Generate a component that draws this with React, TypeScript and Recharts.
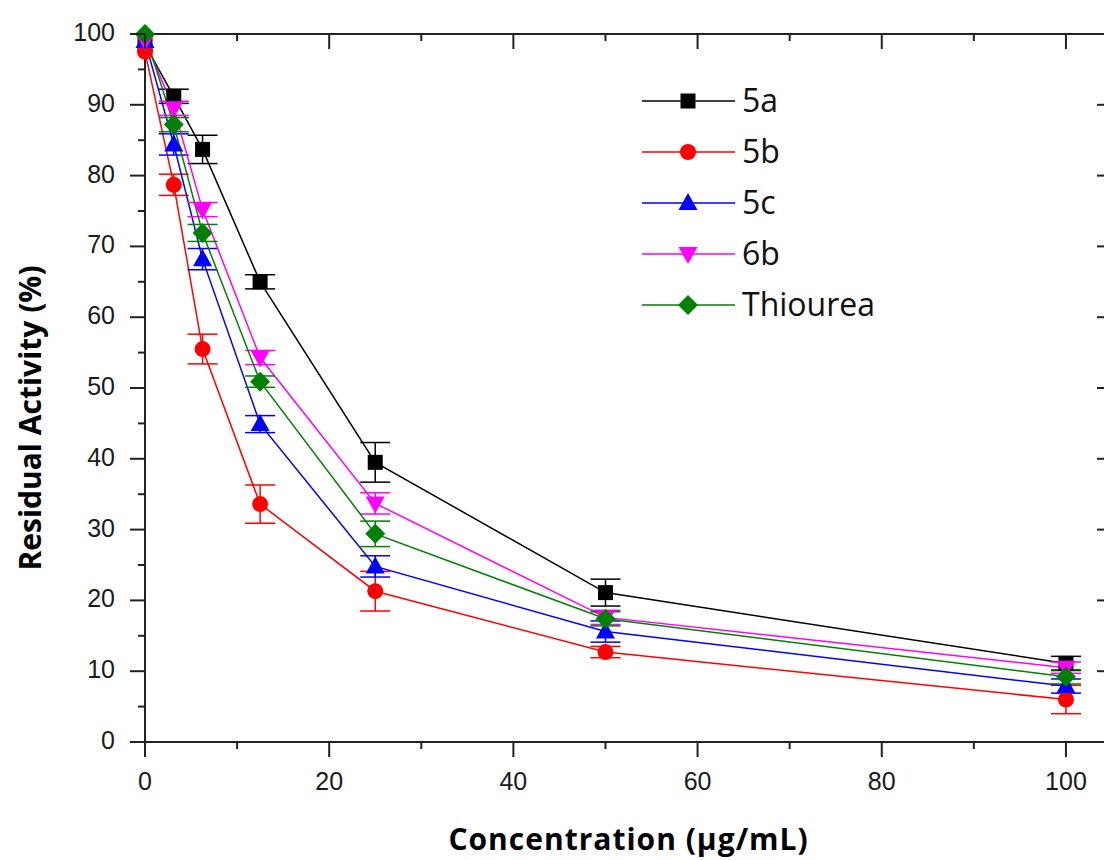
import React from 'react';
import { LineChart, Line, XAxis, YAxis, ErrorBar } from 'recharts';

// concentrations (µg/mL)
const concentrations = [0, 3.125, 6.25, 12.5, 25, 50, 100];

// residual activity (%) and SD
const act5a = [98.5, 91.2, 83.7, 65.0, 39.5, 21.1, 11.1];
const err5a = [0, 1.0, 2.0, 1.0, 2.8, 1.9, 1.0];
const act5b = [97.5, 78.7, 55.5, 33.6, 21.3, 12.7, 6.0];
const err5b = [0, 1.5, 2.1, 2.7, 2.8, 0.8, 2.0];
const act5c = [99.0, 84.4, 68.2, 44.9, 24.8, 15.6, 7.9];
const err5c = [0, 1.5, 1.5, 1.2, 1.5, 1.5, 1.0];
const act6b = [99.0, 89.5, 75.2, 54.3, 33.7, 17.6, 10.5];
const err6b = [0, 1.0, 1.0, 1.0, 1.5, 1.0, 0.8];
const actThiourea = [100, 87.2, 71.9, 50.9, 29.4, 17.4, 9.2];
const errThiourea = [0, 1.0, 1.2, 0.8, 1.8, 1.0, 1.0];

const xTicks = [0, 10, 20, 30, 40, 50, 60, 70, 80, 90, 100];
const yTicks = [0, 5, 10, 15, 20, 25, 30, 35, 40, 45, 50, 55, 60, 65, 70, 75, 80, 85, 90, 95, 100];

const series = [
  { name: '5a', color: '#000000', marker: 'square', values: act5a, errors: err5a },
  { name: '5b', color: '#ff0000', marker: 'circle', values: act5b, errors: err5b },
  { name: '5c', color: '#0000ff', marker: 'up', values: act5c, errors: err5c },
  { name: '6b', color: '#ff00ff', marker: 'down', values: act6b, errors: err6b },
  { name: 'Thiourea', color: '#008000', marker: 'diamond', values: actThiourea, errors: errThiourea },
];

const data = concentrations.map((c, i) => {
  const row: any = { conc: c };
  series.forEach((s, k) => {
    row['v' + k] = s.values[i];
    row['e' + k] = s.errors[i];
  });
  return row;
});

const AXIS = '#222';
const TICK_FONT = '"Liberation Sans", Arial, sans-serif';
const TITLE_FONT = '"Open Sans", Lato, sans-serif';

function Marker({ kind, cx, cy, color }: any) {
  if (cx == null || cy == null) return null;
  switch (kind) {
    case 'square':
      return <rect x={cx - 7.5} y={cy - 7.5} width={15} height={15} fill={color} />;
    case 'circle':
      return <circle cx={cx} cy={cy} r={8} fill={color} />;
    case 'up':
      return <polygon points={`${cx},${cy - 10} ${cx - 9.5},${cy + 7} ${cx + 9.5},${cy + 7}`} fill={color} />;
    case 'down':
      return <polygon points={`${cx},${cy + 10} ${cx - 9.5},${cy - 7} ${cx + 9.5},${cy - 7}`} fill={color} />;
    default:
      return <polygon points={`${cx},${cy - 10} ${cx + 10},${cy} ${cx},${cy + 10} ${cx - 10},${cy}`} fill={color} />;
  }
}

// tick marks: major every 20 on x / 10 on y, minor halfway
const xTick = (side: 'bottom' | 'top') => (p: any) => {
  const v = p.payload.value;
  const major = v % 20 === 0;
  const len = major ? 15 : 7;
  return (
    <g>
      <line x1={p.x} x2={p.x} y1={p.y} y2={p.y + len} stroke={AXIS} strokeWidth={2} />
      {side === 'bottom' && major && (
        <text x={p.x} y={p.y + 48} textAnchor="middle" fontSize={25} fontFamily={TICK_FONT} fill="#1a1a1a">
          {v}
        </text>
      )}
    </g>
  );
};

const yTick = (side: 'left' | 'right') => (p: any) => {
  const v = p.payload.value;
  const major = v % 10 === 0;
  const len = major ? 15 : 7;
  return (
    <g>
      <line x1={p.x - len} x2={p.x} y1={p.y} y2={p.y} stroke={AXIS} strokeWidth={2} />
      {side === 'left' && major && (
        <text x={p.x - 30} y={p.y + 7} textAnchor="end" fontSize={25} fontFamily={TICK_FONT} fill="#1a1a1a">
          {v}
        </text>
      )}
    </g>
  );
};

function LegendBox() {
  return (
    <svg width={300} height={260} style={{ position: 'absolute', left: 630, top: 75 }}>
      {series.map((s, i) => {
        const y = 26 + i * 51;
        return (
          <g key={s.name}>
            <line x1={12} x2={105} y1={y} y2={y} stroke={s.color} strokeWidth={1.5} />
            <Marker kind={s.marker} cx={58} cy={y} color={s.color} />
            <text x={112} y={y + 11} fontSize={32} fontFamily={TITLE_FONT} fill="#111">
              {s.name}
            </text>
          </g>
        );
      })}
    </svg>
  );
}

export default function App() {
  return (
    <div style={{ position: 'fixed', left: 0, top: 0, width: 1104, height: 860, overflow: 'hidden', background: '#fff' }}>
      <LineChart width={1122} height={860} data={data} margin={{ top: 0, right: 0, bottom: 0, left: 0 }}>
        <XAxis
          xAxisId="b"
          dataKey="conc"
          type="number"
          domain={[0, 105]}
          ticks={xTicks}
          interval={0}
          height={118}
          tickSize={0}
          tickMargin={0}
          tickLine={false}
          axisLine={{ stroke: AXIS, strokeWidth: 2 }}
          tick={xTick('bottom')}
          label={(p: any) => {
            const vb = p.viewBox;
            return (
              <text x={vb.x + vb.width / 2} y={vb.y + 108} textAnchor="middle" fontSize={30} letterSpacing={1} fontWeight={700} fontFamily={TITLE_FONT} fill="#000">
                Concentration (μg/mL)
              </text>
            );
          }}
        />
        <XAxis
          xAxisId="t"
          dataKey="conc"
          orientation="top"
          type="number"
          domain={[0, 105]}
          ticks={xTicks}
          interval={0}
          height={34}
          tickSize={0}
          tickMargin={0}
          tickLine={false}
          axisLine={{ stroke: AXIS, strokeWidth: 2 }}
          tick={xTick('top')}
        />
        <YAxis
          yAxisId="l"
          type="number"
          domain={[0, 100]}
          ticks={yTicks}
          interval={0}
          width={145}
          tickSize={0}
          tickMargin={0}
          tickLine={false}
          axisLine={{ stroke: AXIS, strokeWidth: 2 }}
          tick={yTick('left')}
          label={(p: any) => {
            const vb = p.viewBox;
            const cx = vb.x + 29;
            const cy = vb.y + vb.height / 2 + 30;
            return (
              <text x={cx} y={cy} transform={`rotate(-90 ${cx} ${cy})`} textAnchor="middle" dominantBaseline="central" fontSize={30} fontWeight={700} fontFamily={TITLE_FONT} fill="#000">
                Residual Activity (%)
              </text>
            );
          }}
        />
        <YAxis
          yAxisId="r"
          orientation="right"
          type="number"
          domain={[0, 100]}
          ticks={yTicks}
          interval={0}
          width={10}
          tickSize={0}
          tickMargin={0}
          tickLine={false}
          axisLine={{ stroke: AXIS, strokeWidth: 2 }}
          tick={yTick('right')}
        />
        {/* invisible series so the frame axes (top / right) get a scale */}
        <Line
          xAxisId="t"
          yAxisId="r"
          dataKey="v0"
          stroke="none"
          dot={false}
          activeDot={false}
          legendType="none"
          isAnimationActive={false}
        />
        {series.map((s, k) => (
          <Line
            key={s.name}
            xAxisId="b"
            yAxisId="l"
            type="linear"
            dataKey={'v' + k}
            name={s.name}
            stroke={s.color}
            strokeWidth={1.5}
            isAnimationActive={false}
            activeDot={false}
            dot={(p: any) => <Marker key={p.index} kind={s.marker} cx={p.cx} cy={p.cy} color={s.color} />}
          >
            <ErrorBar dataKey={'e' + k} direction="y" width={15} strokeWidth={1.5} stroke={s.color} />
          </Line>
        ))}
      </LineChart>
      <LegendBox />
    </div>
  );
}
